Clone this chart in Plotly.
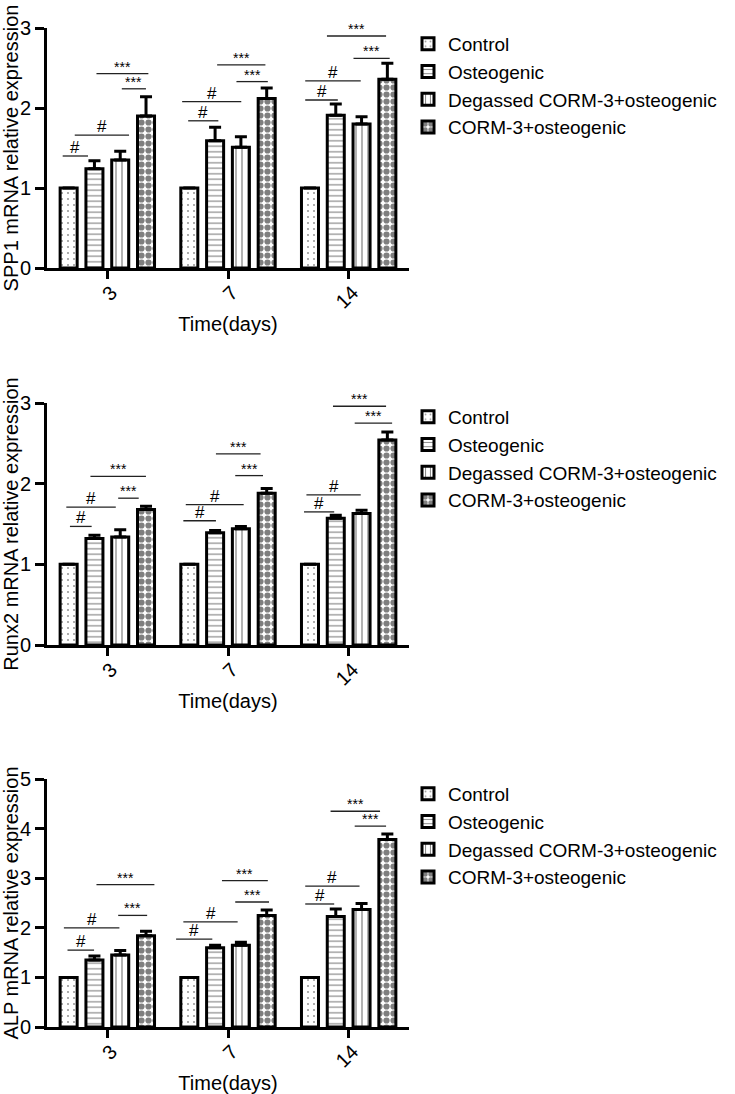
import plotly.graph_objects as go

# ---------------- data ----------------
days = ["3", "7", "14"]
series_names = ["Control", "Osteogenic", "Degassed CORM-3+osteogenic", "CORM-3+osteogenic"]

spp1_vals = [[1.0, 1.0, 1.0], [1.24, 1.59, 1.91], [1.35, 1.51, 1.80], [1.90, 2.12, 2.36]]
spp1_err = [[0, 0, 0], [0.10, 0.17, 0.14], [0.11, 0.13, 0.09], [0.24, 0.13, 0.20]]

runx2_vals = [[1.0, 1.0, 1.0], [1.32, 1.39, 1.57], [1.34, 1.44, 1.63], [1.68, 1.88, 2.54]]
runx2_err = [[0, 0, 0], [0.04, 0.03, 0.04], [0.09, 0.03, 0.04], [0.04, 0.06, 0.10]]

alp_vals = [[1.0, 1.0, 1.0], [1.35, 1.60, 2.23], [1.45, 1.65, 2.37], [1.84, 2.25, 3.78]]
alp_err = [[0, 0, 0], [0.08, 0.05, 0.15], [0.09, 0.06, 0.12], [0.09, 0.11, 0.11]]

y_titles = ["SPP1 mRNA relative expression", "Runx2 mRNA relative expression", "ALP mRNA relative expression"]
y_max = [3, 3, 5]

# significance brackets: (category index, x start offset, x end offset, y, label)
spp1_sig_group = [0, 0, 0, 0, 1, 1, 1, 1, 2, 2, 2, 2]
spp1_sig_x0 = [-0.37, -0.27, -0.09, 0.12, -0.33, -0.38, -0.09, 0.07, -0.36, -0.36, -0.18, 0.04]
spp1_sig_x1 = [-0.16, 0.18, 0.34, 0.32, -0.08, 0.11, 0.31, 0.33, -0.09, 0.10, 0.31, 0.34]
spp1_sig_y = [1.40, 1.66, 2.43, 2.24, 1.84, 2.08, 2.54, 2.33, 2.10, 2.34, 2.90, 2.62]
spp1_sig_lab = ["#", "#", "***", "***", "#", "#", "***", "***", "#", "#", "***", "***"]

runx2_sig_group = [0, 0, 0, 0, 1, 1, 1, 1, 2, 2, 2, 2]
runx2_sig_x0 = [-0.31, -0.34, -0.14, 0.09, -0.37, -0.35, -0.10, 0.06, -0.37, -0.35, -0.13, 0.05]
runx2_sig_x1 = [-0.13, 0.07, 0.32, 0.26, -0.10, 0.13, 0.27, 0.29, -0.12, 0.10, 0.31, 0.36]
runx2_sig_y = [1.47, 1.71, 2.09, 1.82, 1.54, 1.74, 2.37, 2.10, 1.65, 1.86, 2.96, 2.75]
runx2_sig_lab = ["#", "#", "***", "***", "#", "#", "***", "***", "#", "#", "***", "***"]

alp_sig_group = [0, 0, 0, 0, 1, 1, 1, 1, 2, 2, 2, 2]
alp_sig_x0 = [-0.33, -0.36, -0.09, 0.09, -0.43, -0.37, -0.05, 0.06, -0.36, -0.36, -0.15, 0.05]
alp_sig_x1 = [-0.11, 0.10, 0.39, 0.33, -0.13, 0.08, 0.33, 0.34, -0.12, 0.09, 0.26, 0.31]
alp_sig_y = [1.55, 2.00, 2.87, 2.25, 1.77, 2.12, 2.95, 2.52, 2.48, 2.84, 4.35, 4.05]
alp_sig_lab = ["#", "#", "***", "***", "#", "#", "***", "***", "#", "#", "***", "***"]

panels = [
    (spp1_vals, spp1_err, (spp1_sig_group, spp1_sig_x0, spp1_sig_x1, spp1_sig_y, spp1_sig_lab)),
    (runx2_vals, runx2_err, (runx2_sig_group, runx2_sig_x0, runx2_sig_x1, runx2_sig_y, runx2_sig_lab)),
    (alp_vals, alp_err, (alp_sig_group, alp_sig_x0, alp_sig_x1, alp_sig_y, alp_sig_lab)),
]

# ---------------- style ----------------
FONT = "Arial, Liberation Sans, sans-serif"
patterns = [
    dict(shape=".", size=6, solidity=0.1, fgcolor="#333333", bgcolor="white"),
    dict(shape="-", size=5.5, solidity=0.2, fgcolor="black", bgcolor="white"),
    dict(shape="|", size=6, solidity=0.2, fgcolor="black", bgcolor="white"),
    dict(shape=".", size=7, solidity=0.62, fgcolor="black", bgcolor="white"),
]

W, H = 735, 1094
x_dom = [47 / W, 409 / W]
y_doms = [
    [1 - 268 / H, 1 - 28 / H],
    [1 - 645 / H, 1 - 403 / H],
    [1 - 1027 / H, 1 - 779 / H],
]
legend_tops = [1 - 25 / H, 1 - 398 / H, 1 - 775 / H]

fig = go.Figure()
layout = dict(
    width=W, height=H,
    margin=dict(l=0, r=0, t=0, b=0, autoexpand=False),
    paper_bgcolor="white", plot_bgcolor="white",
    barmode="group", bargap=0.145, bargroupgap=0.34,
    font=dict(family=FONT, color="black"),
    showlegend=True,
)
shapes = []
annotations = []

for p, (vals, errs, sig) in enumerate(panels):
    sfx = "" if p == 0 else str(p + 1)
    legend_name = "legend" + sfx
    for s in range(4):
        fig.add_trace(go.Bar(
            x=days, y=vals[s], name=series_names[s],
            xaxis="x" + sfx, yaxis="y" + sfx,
            legend=legend_name,
            marker=dict(color="white", line=dict(color="black", width=3), pattern=patterns[s]),
            error_y=dict(type="data", array=errs[s], arrayminus=[0, 0, 0], symmetric=False,
                         color="black", thickness=3, width=6, visible=True),
        ))
    layout["xaxis" + sfx] = dict(
        domain=x_dom, anchor="y" + sfx, type="category", automargin=False,
        showline=True, linecolor="black", linewidth=3,
        ticks="outside", ticklen=8, tickwidth=3, tickcolor="black",
        tickangle=-45, tickfont=dict(size=20, family=FONT),
        ticklabelstandoff=-6, ticklabelshift=4,
        title=dict(text="Time(days)", font=dict(size=20, family=FONT), standoff=6),
        showgrid=False, zeroline=False,
    )
    layout["yaxis" + sfx] = dict(
        domain=y_doms[p], anchor="x" + sfx, range=[0, y_max[p]], dtick=1, automargin=False,
        showline=True, linecolor="black", linewidth=3,
        ticks="outside", ticklen=9, tickwidth=3, tickcolor="black",
        tickfont=dict(size=20, family=FONT),
        title=dict(text=y_titles[p], font=dict(size=20, family=FONT), standoff=4),
        showgrid=False, zeroline=False,
    )
    layout[legend_name] = dict(
        x=408 / W, xanchor="left", y=legend_tops[p], yanchor="top",
        font=dict(size=19, family=FONT), bgcolor="rgba(0,0,0,0)",
        traceorder="normal",
    )
    g, x0s, x1s, ys, labs = sig
    for k in range(len(g)):
        shapes.append(dict(type="line", xref="x" + sfx, yref="y" + sfx,
                           x0=g[k] + x0s[k], x1=g[k] + x1s[k], y0=ys[k], y1=ys[k],
                           line=dict(color="#222222", width=1.3)))
        annotations.append(dict(xref="x" + sfx, yref="y" + sfx,
                                x=g[k] + (x0s[k] + x1s[k]) / 2, y=ys[k],
                                text=labs[k], showarrow=False, yanchor="bottom",
                                font=dict(size=17 if labs[k] == "#" else 14, family=FONT, color="black"),
                                yshift=-3))

layout["shapes"] = shapes
layout["annotations"] = annotations
fig.update_layout(**layout)
fig.write_html("out.html", config={"displayModeBar": False},
               post_script="document.body.style.margin='0px';document.body.style.overflow='hidden';")
